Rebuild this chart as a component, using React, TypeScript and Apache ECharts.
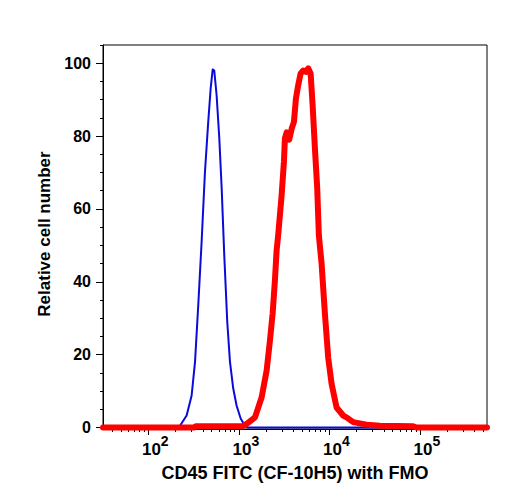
import React, { useEffect, useRef } from 'react';
import * as echarts from 'echarts';

const FONT = '"Liberation Sans", Arial, Helvetica, sans-serif';

// Fluorescence intensity (linear units) and relative cell number
const blueX = [31.6, 224, 265, 301, 328, 356, 388, 422, 459, 488, 514, 535, 568, 608, 646, 690, 745, 798, 867, 945, 1047, 1167, 1260, 550000];
const blueY = [0, 0.5, 3.3, 8.8, 18, 33.5, 51, 70, 83.9, 93, 98.3, 98, 91.2, 79.4, 65.7, 47.3, 28.9, 18, 10.7, 6, 2.5, 0.5, 0, 0];

const redX = [31.6, 320, 335, 1100, 1220, 1507, 1786, 2028, 2205, 2361, 2502, 2612, 2722, 2966, 3145, 3226, 3371, 3600, 3827, 4058, 4269, 4525, 4810, 5140, 5505, 5835, 6199, 6526, 6920, 7334, 7651, 8199, 8916, 9699, 10575, 12000, 14190, 15460, 18290, 25750, 36100, 84100, 91700, 550000];
const redY = [0, 0, 0.35, 0.4, 1, 2.8, 8.3, 15.7, 23.9, 31.3, 40.4, 48.6, 53, 63.7, 72.9, 79.4, 81, 79, 82, 83.9, 90.3, 94, 97.2, 98, 97.6, 98.6, 97.2, 88.5, 76.6, 65.7, 52.7, 45, 31.3, 19.2, 12, 5.5, 3.3, 2.8, 1.5, 0.8, 0.5, 0.35, 0, 0];

const xMajorExp = [2, 3, 4, 5];
const xMinorVals = [40, 50, 60, 70, 80, 90, 200, 300, 400, 500, 600, 700, 800, 900, 2000, 3000, 4000, 5000, 6000, 7000, 8000, 9000, 20000, 30000, 40000, 50000, 60000, 70000, 80000, 90000, 200000, 300000, 400000, 500000];
const yMajor = [0, 20, 40, 60, 80, 100];
const yMinor = [5, 10, 15, 25, 30, 35, 45, 50, 55, 65, 70, 75, 85, 90, 95, 105];

const X_MIN = 31.6;
const X_MAX = 550000;
const Y_MIN = -0.4;
const Y_MAX = 105;

export default function App() {
  const ref = useRef<HTMLDivElement>(null);
  useEffect(() => {
    const chart = echarts.init(ref.current!, null, { renderer: 'svg' });
    const lx = (v: number) => Math.log10(v);
    chart.setOption({
      animation: false,
      backgroundColor: '#ffffff',
      grid: {
        left: 103,
        top: 45,
        right: 21,
        bottom: 71,
        show: true,
        borderColor: '#000',
        borderWidth: 1,
        backgroundColor: 'transparent',
      },
      xAxis: [
        {
          type: 'value',
          min: lx(X_MIN),
          max: lx(X_MAX),
          axisLine: { show: true, onZero: false, lineStyle: { color: '#000', width: 1 } },
          axisTick: { show: true, customValues: xMajorExp, length: 6, lineStyle: { color: '#000', width: 1 } },
          axisLabel: {
            customValues: xMajorExp,
            margin: 5,
            padding: [0, 0, 0, 14],
            formatter: (v: number) => `{b|10}{s|${Math.round(v)}}`,
            rich: {
              b: { fontSize: 17, fontWeight: 'bold', fontFamily: FONT, color: '#000', lineHeight: 24, verticalAlign: 'bottom' },
              s: { fontSize: 14, fontWeight: 'bold', fontFamily: FONT, color: '#000', lineHeight: 20, verticalAlign: 'top' },
            },
          },
          splitLine: { show: false },
          name: 'CD45 FITC (CF-10H5) with FMO',
          nameLocation: 'middle',
          nameGap: 35,
          nameTextStyle: { fontSize: 18, fontWeight: 'bold', fontFamily: FONT, color: '#000' },
        },
        {
          type: 'value',
          position: 'bottom',
          min: lx(X_MIN),
          max: lx(X_MAX),
          axisLine: { show: false, onZero: false },
          axisTick: { show: true, customValues: xMinorVals.map(lx), length: 3, lineStyle: { color: '#000', width: 1 } },
          axisLabel: { show: false },
          splitLine: { show: false },
        },
      ],
      yAxis: [
        {
          type: 'value',
          min: Y_MIN,
          max: Y_MAX,
          axisLine: { show: true, onZero: false, lineStyle: { color: '#000', width: 1 } },
          axisTick: { show: true, customValues: yMajor, length: 7, lineStyle: { color: '#000', width: 1 } },
          axisLabel: {
            customValues: yMajor,
            margin: 12,
            fontSize: 16,
            fontWeight: 'bold',
            fontFamily: FONT,
            color: '#000',
          },
          splitLine: { show: false },
          name: 'Relative cell number',
          nameLocation: 'middle',
          nameGap: 49,
          nameTextStyle: { fontSize: 17, fontWeight: 'bold', fontFamily: FONT, color: '#000', padding: [0, 0, 0, 6] },
        },
        {
          type: 'value',
          position: 'left',
          min: Y_MIN,
          max: Y_MAX,
          axisLine: { show: false, onZero: false },
          axisTick: { show: true, customValues: yMinor, length: 3, lineStyle: { color: '#000', width: 1 } },
          axisLabel: { show: false },
          splitLine: { show: false },
        },
      ],
      series: [
        {
          type: 'line',
          xAxisIndex: 0,
          yAxisIndex: 0,
          data: blueX.map((x, i) => [lx(x), blueY[i]]),
          showSymbol: false,
          symbol: 'none',
          lineStyle: { color: '#0a0adc', width: 2, join: 'round' },
          z: 2,
        },
        {
          type: 'line',
          xAxisIndex: 0,
          yAxisIndex: 0,
          data: redX.map((x, i) => [lx(x), redY[i]]),
          showSymbol: false,
          symbol: 'none',
          lineStyle: { color: '#ff0000', width: 6, join: 'round', cap: 'round' },
          z: 3,
        },
      ],
    });
    return () => chart.dispose();
  }, []);
  return <div ref={ref} style={{ position: 'absolute', left: 0, top: 0, width: 508, height: 500 }} />;
}
